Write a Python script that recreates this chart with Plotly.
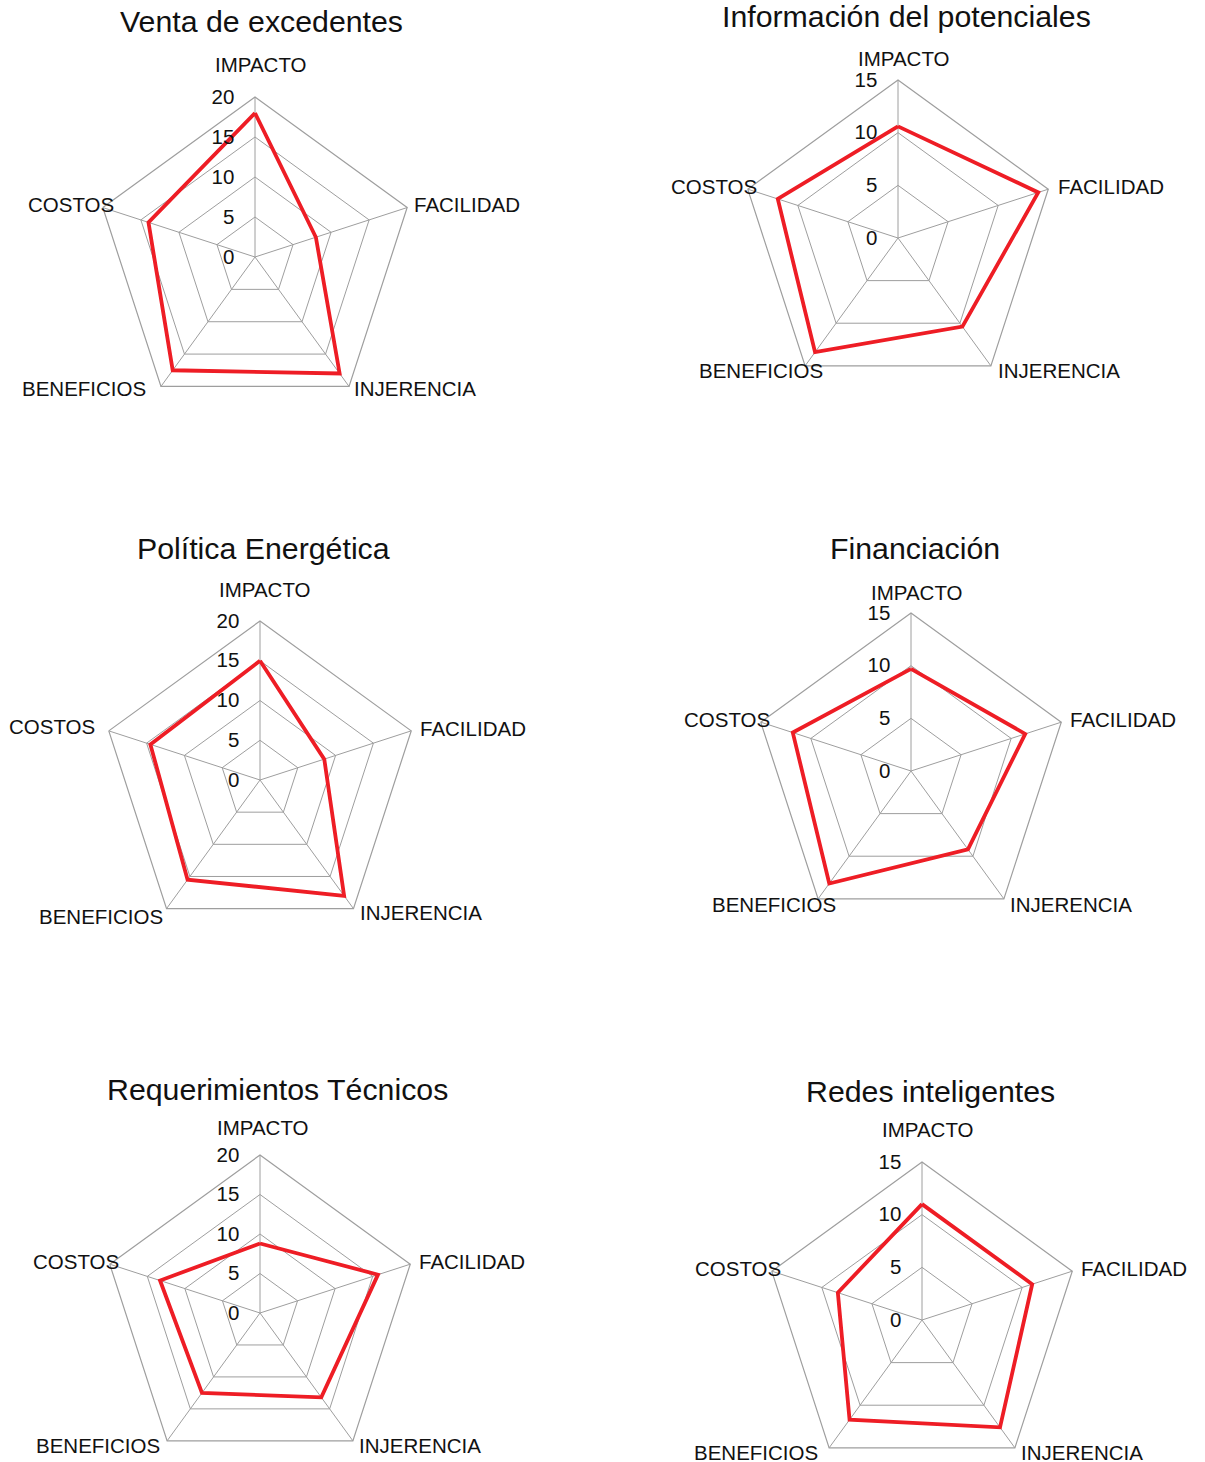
import plotly.graph_objects as go

# Canvas: the figure is slightly taller than the visible page so the last
# radar can keep its full circular domain.
W, H = 1205, 1480

criterios = ["IMPACTO", "FACILIDAD", "INJERENCIA", "BENEFICIOS", "COSTOS"]

titulos = [
    "Venta de excedentes",
    "Información del potenciales",
    "Política Energética",
    "Financiación",
    "Requerimientos Técnicos",
    "Redes inteligentes",
]

venta_excedentes = [18, 8, 18, 17.5, 14]
informacion_potenciales = [10.6, 14, 10.4, 13.4, 12]
politica_energetica = [15, 8.5, 18, 15.5, 14.5]
financiacion = [9.7, 11.4, 9.2, 13.2, 11.8]
requerimientos_tecnicos = [8.8, 15.7, 13.2, 12.5, 13.3]
redes_inteligentes = [11, 11, 12.6, 11.7, 8.4]

series = [
    venta_excedentes,
    informacion_potenciales,
    politica_energetica,
    financiacion,
    requerimientos_tecnicos,
    redes_inteligentes,
]

escala_max = [20, 15, 20, 15, 20, 15]

# Panel geometry in pixels: chart centre, radius, title position and
# the anchor of each criterion label (x, y, horizontal alignment).
paneles = [
    dict(c=(255, 257), r=160, t=(261, 22),
         e=[(261, 64, "center"), (412, 204, "left"), (352, 388, "left"),
            (148, 388, "right"), (116, 204, "right")]),
    dict(c=(898, 238), r=158, t=(906, 16),
         e=[(904, 58, "center"), (1056, 187, "left"), (996, 371, "left"),
            (825, 371, "right"), (759, 187, "right")]),
    dict(c=(260, 780), r=159, t=(263, 549),
         e=[(265, 589, "center"), (418, 728, "left"), (358, 912, "left"),
            (165, 916, "right"), (97, 726, "right")]),
    dict(c=(911, 771), r=158, t=(915, 548),
         e=[(917, 592, "center"), (1068, 719, "left"), (1008, 904, "left"),
            (838, 904, "right"), (772, 719, "right")]),
    dict(c=(260, 1313), r=158, t=(277, 1089),
         e=[(263, 1127, "center"), (417, 1261, "left"), (357, 1445, "left"),
            (162, 1445, "right"), (121, 1261, "right")]),
    dict(c=(922, 1320), r=158, t=(930, 1091),
         e=[(928, 1129, "center"), (1079, 1268, "left"), (1019, 1452, "left"),
            (820, 1452, "right"), (783, 1268, "right")]),
]

FUENTE = "Liberation Sans, Arial, Helvetica, sans-serif"
GRIS = "#9E9E9E"
ROJO = "#EE1D25"

fig = go.Figure()
annotations = []
layout_polares = {}

for i, (nombre, valores, vmax, p) in enumerate(zip(titulos, series, escala_max, paneles)):
    clave = "polar" if i == 0 else f"polar{i + 1}"
    fig.add_trace(go.Scatterpolar(
        r=valores + valores[:1],
        theta=criterios + criterios[:1],
        mode="lines",
        line=dict(color=ROJO, width=3.8),
        subplot=clave,
        showlegend=False,
        hoverinfo="skip",
    ))
    cx, cy = p["c"]
    rad = p["r"]
    layout_polares[clave] = dict(
        domain=dict(
            x=[(cx - rad) / W, (cx + rad) / W],
            y=[1 - (cy + rad) / H, 1 - (cy - rad) / H],
        ),
        gridshape="linear",
        bgcolor="white",
        radialaxis=dict(
            range=[0, vmax],
            dtick=5,
            angle=90,
            tickangle=90,
            showline=False,
            gridcolor=GRIS,
            gridwidth=1.2,
            ticks="outside",
            ticklen=13,
            tickcolor="rgba(0,0,0,0)",
            tickfont=dict(family=FUENTE, size=20.5, color="#111111"),
            side="counterclockwise",
        ),
        angularaxis=dict(
            direction="clockwise",
            rotation=90,
            showline=True,
            linecolor=GRIS,
            linewidth=1.2,
            gridcolor=GRIS,
            gridwidth=1.2,
            showticklabels=False,
            ticks="",
        ),
    )
    annotations.append(dict(
        text=nombre, x=p["t"][0] / W, y=1 - p["t"][1] / H,
        xref="paper", yref="paper", xanchor="center", yanchor="middle",
        showarrow=False, font=dict(family=FUENTE, size=30.3, color="#111111"),
    ))
    for texto, (ex, ey, al) in zip(criterios, p["e"]):
        annotations.append(dict(
            text=texto, x=ex / W, y=1 - ey / H,
            xref="paper", yref="paper", xanchor=al, yanchor="middle",
            showarrow=False, font=dict(family=FUENTE, size=20.5, color="#111111"),
        ))

fig.update_layout(
    width=W,
    height=H,
    margin=dict(l=0, r=0, t=0, b=0),
    paper_bgcolor="white",
    plot_bgcolor="white",
    annotations=annotations,
    **layout_polares,
)

fig.write_html(
    "out.html",
    post_script=(
        "document.documentElement.style.overflow='hidden';"
        "document.body.style.overflow='hidden';"
        "document.body.style.margin='0';"
    ),
)
